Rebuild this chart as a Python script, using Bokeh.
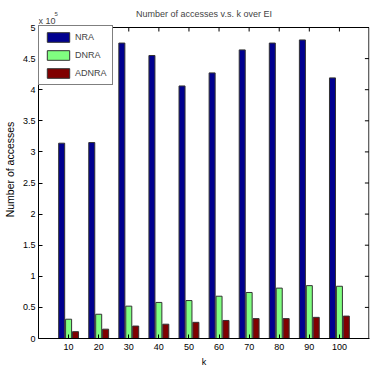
from bokeh.plotting import figure
from bokeh.models import (ColumnDataSource, FixedTicker, Label,
                          Legend, LegendItem, Range1d)
from bokeh.transform import dodge
from bokeh.embed import file_html
from bokeh.resources import INLINE

# Data (values in units of 10^5 accesses)
k_labels = ["10", "20", "30", "40", "50", "60", "70", "80", "90", "100"]
k_pos = [1, 2, 3, 4, 5, 6, 7, 8, 9, 10]
nra = [3.14, 3.15, 4.75, 4.55, 4.06, 4.27, 4.64, 4.75, 4.80, 4.19]
dnra = [0.31, 0.39, 0.52, 0.58, 0.61, 0.68, 0.74, 0.81, 0.85, 0.84]
adnra = [0.11, 0.15, 0.20, 0.23, 0.26, 0.29, 0.32, 0.32, 0.34, 0.36]
y_ticks = [0, 0.5, 1, 1.5, 2, 2.5, 3, 3.5, 4, 4.5, 5]
y_tick_labels = ["0", "0.5", "1", "1.5", "2", "2.5", "3", "3.5", "4", "4.5", "5"]

# axis limits (MATLAB-style box 0..11 x 0..5)
X_LIM = 11
Y_MAX = 5

# layout geometry (pixels)
FRAME_W = 331
FRAME_H = 338
TOP_PAD = 27          # px between frame top and the y = 5 box edge
PPU_Y = (FRAME_H - TOP_PAD) / Y_MAX
Y_TOP = Y_MAX + TOP_PAD / PPU_Y
X_END = X_LIM
X_BOX = X_LIM - 0.02

# legend geometry
LEG_PAD, LEG_SPACING, GLYPH_W, GLYPH_H = 5, 6, 28, 12
LEG_H = 2 * LEG_PAD + 3 * GLYPH_H + 2 * LEG_SPACING

FONT = "Liberation Sans"
FS = "9px"

src = ColumnDataSource(dict(x=k_pos, nra=nra, dnra=dnra, adnra=adnra))

p = figure(frame_width=FRAME_W, frame_height=FRAME_H, output_backend="svg",
           toolbar_location=None,
           x_range=Range1d(0, X_END), y_range=Range1d(0, Y_TOP),
           min_border_left=37, min_border_right=2, min_border_top=0,
           min_border_bottom=34)
p.xgrid.visible = False
p.ygrid.visible = False
p.outline_line_color = None
p.background_fill_color = "white"
p.border_fill_color = "white"

bw = 0.2
r1 = p.vbar(x=dodge("x", -0.23, range=p.x_range), top="nra", width=bw, source=src,
            fill_color="#00008F", line_color="#333333", line_width=1)
r2 = p.vbar(x=dodge("x", 0.0, range=p.x_range), top="dnra", width=bw, source=src,
            fill_color="#80FF80", line_color="#333333", line_width=1)
r3 = p.vbar(x=dodge("x", 0.23, range=p.x_range), top="adnra", width=bw, source=src,
            fill_color="#800000", line_color="#333333", line_width=1)

# main axes
xa = p.xaxis[0]
xa.ticker = FixedTicker(ticks=k_pos)
xa.major_label_overrides = {k: lab for k, lab in zip(k_pos, k_labels)}
ya = p.yaxis[0]
ya.ticker = FixedTicker(ticks=y_ticks)
ya.major_label_overrides = {t: lab for t, lab in zip(y_ticks, y_tick_labels)}
ya.bounds = (0, Y_MAX)
for ax in (xa, ya):
    ax.major_tick_in = 4
    ax.major_tick_out = 0
    ax.minor_tick_line_color = None
    ax.axis_line_color = "black"
    ax.major_tick_line_color = "black"
    ax.major_label_text_font = FONT
    ax.major_label_text_font_size = FS
    ax.major_label_text_color = "black"
    ax.axis_label_text_font = FONT
    ax.axis_label_text_font_size = FS
    ax.axis_label_text_font_style = "normal"
    ax.axis_label_text_color = "black"
xa.axis_label = "k"
xa.major_label_standoff = 5
xa.axis_label_standoff = 4
ya.axis_label = "Number of accesses"
ya.axis_label_text_font_size = "10.5px"
ya.major_label_standoff = 3
ya.axis_label_standoff = 4

# box: top and right edges, with mirrored tick marks
p.segment(x0=[0], y0=[Y_MAX], x1=[X_BOX], y1=[Y_MAX], line_color="black", line_width=1)
p.segment(x0=[X_BOX], y0=[0], x1=[X_BOX], y1=[Y_MAX], line_color="black", line_width=1)
p.ray(x=k_pos, y=[Y_MAX] * len(k_pos), length=4, length_units="screen",
      angle=-90, angle_units="deg", line_color="black", line_width=1)
p.ray(x=[X_BOX] * len(y_ticks), y=y_ticks, length=4, length_units="screen",
      angle=180, angle_units="deg", line_color="black", line_width=1)

# title and exponent marker
p.add_layout(Label(x=X_LIM / 2, y=Y_MAX, y_offset=14, text="Number of accesses v.s. k over EI",
                   text_font=FONT, text_font_size=FS, text_align="center",
                   text_baseline="middle"))
p.add_layout(Label(x=0, y=Y_MAX, y_offset=7, text="x 10", text_font=FONT,
                   text_font_size=FS, text_align="left", text_baseline="alphabetic"))
p.add_layout(Label(x=0, y=Y_MAX, x_offset=16, y_offset=14, text="5", text_font=FONT,
                   text_font_size="6px", text_align="left", text_baseline="alphabetic"))

legend = Legend(items=[LegendItem(label="NRA", renderers=[r1]),
                       LegendItem(label="DNRA", renderers=[r2]),
                       LegendItem(label="ADNRA", renderers=[r3])],
                location=(0, FRAME_H - TOP_PAD - LEG_H), margin=0, padding=LEG_PAD,
                spacing=LEG_SPACING, glyph_width=GLYPH_W, glyph_height=GLYPH_H,
                label_height=GLYPH_H, label_width=20,
                label_standoff=3, label_text_font=FONT, label_text_font_size=FS,
                border_line_color="black", border_line_width=1,
                background_fill_alpha=1.0)
p.add_layout(legend, "center")

open("out.html", "w").write(file_html(p, INLINE))
